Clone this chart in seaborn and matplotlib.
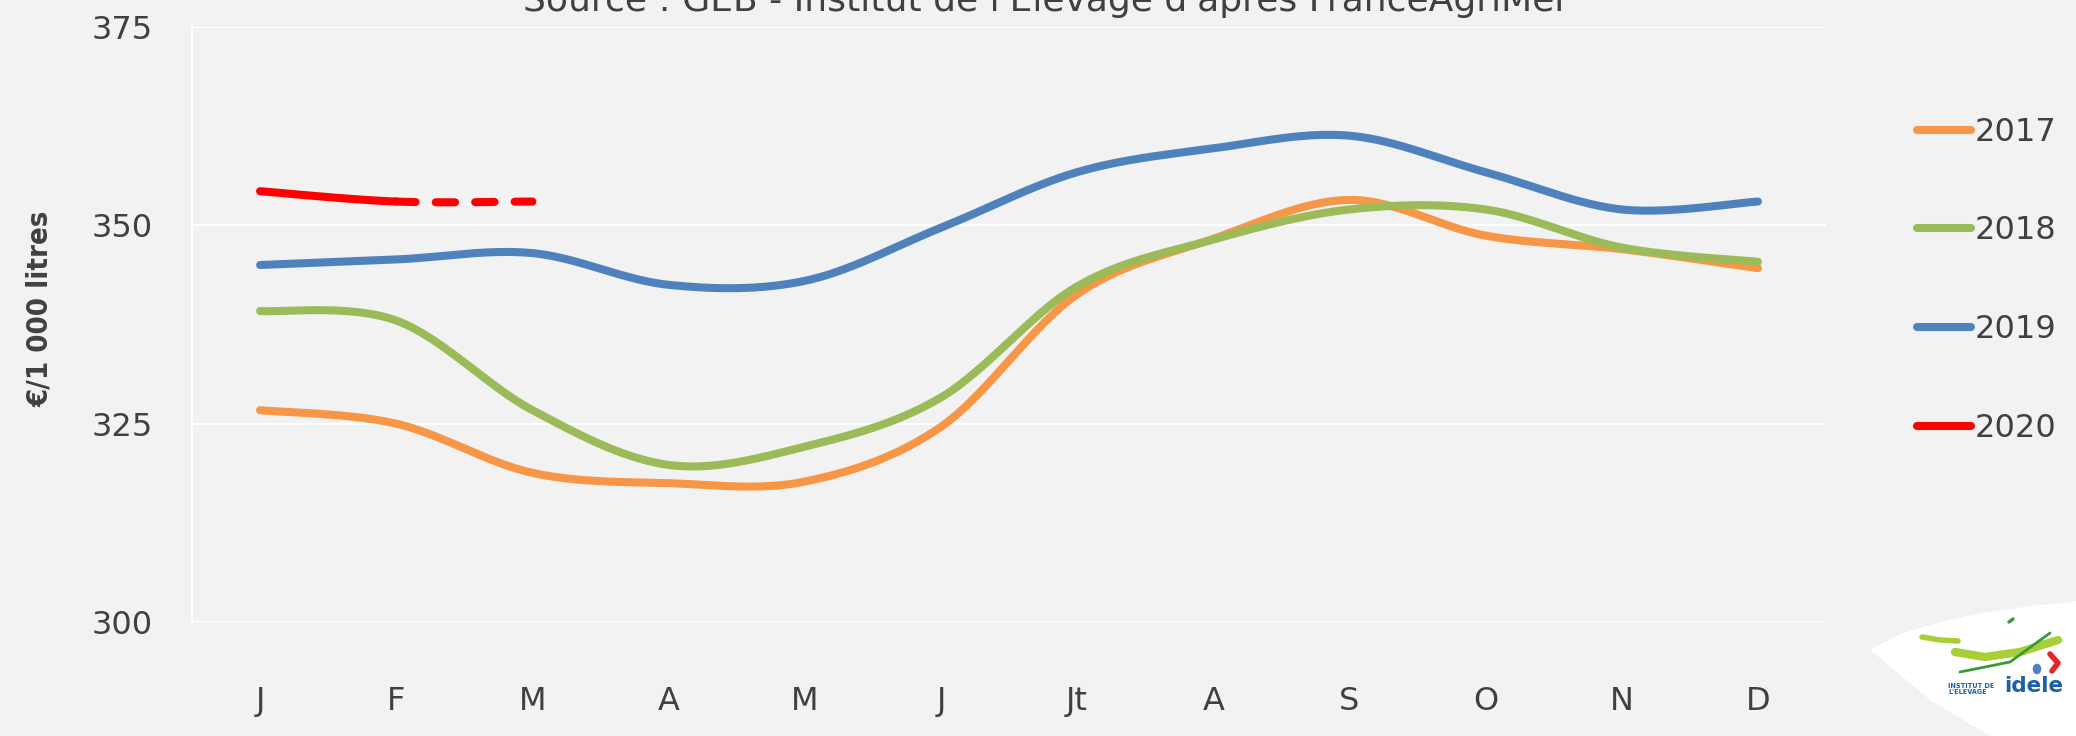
import numpy as np
import pandas as pd
import seaborn as sns
import matplotlib
matplotlib.use("Agg")
import matplotlib.pyplot as plt
from matplotlib.patches import Polygon, Ellipse
from matplotlib.lines import Line2D

# données
months = ["J", "F", "M", "A", "M", "J", "Jt", "A", "S", "O", "N", "D"]
years = ["2017", "2018", "2019", "2020"]
prix_2017 = [326.7, 325.0, 318.8, 317.5, 317.7, 324.6, 341.3, 348.3, 353.2, 348.7, 347.0, 344.6]
prix_2018 = [339.2, 338.0, 326.7, 319.8, 322.1, 328.3, 342.3, 348.2, 352.0, 352.0, 347.2, 345.4]
prix_2019 = [345.0, 345.7, 346.5, 342.5, 343.0, 349.7, 356.7, 359.7, 361.3, 356.7, 352.0, 353.0]
prix_2020 = [354.3, 353.0]
prix_2020_estim = [353.0, 353.0]  # F -> M, en pointilles
colors = {"2017": "#F79646", "2018": "#9BBB59", "2019": "#4F81BD", "2020": "#FF0000"}
yticks = [300, 325, 350, 375]
title = "Source : GEB - Institut de l'Elevage d'après FranceAgriMer"
ylabel = "€/1 000 litres"


def smooth(ys, x0=0, n=30):
    # lissage type Excel (bezier / catmull-rom)
    xs = np.arange(len(ys)) + x0
    pts = np.column_stack([xs, ys]).astype(float)
    p = np.vstack([pts[0], pts, pts[-1]])
    t = np.linspace(0, 1, n, endpoint=False)[:, None]
    out = []
    for i in range(1, len(p) - 2):
        p0, p1, p2, p3 = p[i - 1], p[i], p[i + 1], p[i + 2]
        c1 = p1 + (p2 - p0) / 6
        c2 = p2 - (p3 - p1) / 6
        out.append((1 - t) ** 3 * p1 + 3 * (1 - t) ** 2 * t * c1 + 3 * (1 - t) * t ** 2 * c2 + t ** 3 * p2)
    out.append(pts[-1][None])
    return np.vstack(out)


frames = []
for yr, vals in zip(years[:3], [prix_2017, prix_2018, prix_2019]):
    s = smooth(vals)
    frames.append(pd.DataFrame({"x": s[:, 0], "prix": s[:, 1], "annee": yr}))
df = pd.concat(frames, ignore_index=True)

s2020 = smooth(prix_2020 + prix_2020_estim[1:])
n_solid = (s2020[:, 0] <= 1).sum()
df20 = pd.DataFrame({"x": s2020[:n_solid, 0], "prix": s2020[:n_solid, 1], "annee": "2020"})
df20e = pd.DataFrame({"x": s2020[n_solid - 1:, 0], "prix": s2020[n_solid - 1:, 1], "annee": "2020"})

sns.set_theme(style="white")
plt.rcParams["font.family"] = ["DejaVu Sans"]
bg = "#F2F2F2"
fig = plt.figure(figsize=(20.76, 7.36), dpi=100, facecolor=bg)
ax = fig.add_axes([192 / 2076, 1 - 622 / 736, (1826 - 192) / 2076, (622 - 27) / 736])
ax.set_facecolor(bg)

lw = 5.8
sns.lineplot(data=df, x="x", y="prix", hue="annee", palette=colors, sort=False,
             estimator=None, linewidth=lw, legend=False, ax=ax,
             solid_capstyle="round")
sns.lineplot(data=df20, x="x", y="prix", color=colors["2020"], sort=False,
             estimator=None, linewidth=lw, ax=ax, solid_capstyle="round")
sns.lineplot(data=df20e, x="x", y="prix", color=colors["2020"], sort=False,
             estimator=None, linewidth=lw, ax=ax, dashes=False)
ax.lines[-1].set_dashes((2.4, 2.5))
ax.lines[-1].set_dash_capstyle("round")

ax.set_xlim(-0.5, 11.5)
ax.set_ylim(300, 375)
ax.set_xticks(range(len(months)))
ax.set_xticklabels(months)
ax.set_yticks(yticks)
ax.grid(axis="y", color="white", linewidth=1.5)
for sp in ["top", "right", "bottom"]:
    ax.spines[sp].set_visible(False)
ax.spines["left"].set_color("white")
ax.spines["left"].set_linewidth(1.5)
ax.tick_params(axis="both", length=0, labelsize=23, labelcolor="#404040")
ax.tick_params(axis="y", pad=28)
ax.tick_params(axis="x", pad=46)
ax.set_xlabel("")
ax.set_ylabel("")

handles = [Line2D([], [], color=colors[y], linewidth=lw) for y in years]
leg = fig.legend(handles, years, loc="upper left", bbox_to_anchor=(1888 / 2076, 1 - 88 / 736),
                 frameon=False, fontsize=23, handlelength=1.7, handletextpad=0.1,
                 labelspacing=2.12, labelcolor="#404040")

fig.text(40 / 2076, 1 - 309 / 736, ylabel, rotation=90, ha="center", va="center",
         fontsize=21, fontweight="bold", fontstretch="condensed", color="#404040",
         family=["DejaVu Sans"])
fig.text(1046 / 2076, 1 - 11 / 736, title, ha="center", va="baseline", fontsize=26,
         color="#404040", family=["DejaVu Sans"])


# logo idele (approximatif)
def fpt(x, y):
    return x / 2076, 1 - y / 736


logo = [(1870, 650), (1900, 634), (1940, 622), (1983, 613), (2030, 606), (2063, 603),
        (2076, 601), (2076, 736), (1990, 736), (1930, 700), (1885, 662)]
fig.patches.append(Polygon([fpt(*p) for p in logo], closed=True, facecolor="white",
                           edgecolor="none", transform=fig.transFigure, figure=fig))
fig.add_artist(Line2D(*zip(fpt(1922, 637), fpt(1940, 640), fpt(1958, 641)),
                      color="#A8CF38", linewidth=4, solid_capstyle="round"))
fig.add_artist(Line2D(*zip(fpt(1955, 652), fpt(1985, 657), fpt(2020, 652), fpt(2058, 640)),
                      color="#A8CF38", linewidth=6, solid_capstyle="round"))
fig.add_artist(Line2D(*zip(fpt(1960, 672), fpt(2010, 662), fpt(2050, 633)),
                      color="#3A9A3A", linewidth=2))
fig.add_artist(Line2D(*zip(fpt(2009, 622), fpt(2013, 619)),
                      color="#3A9A3A", linewidth=2.5))
fig.add_artist(Line2D(*zip(fpt(2050, 654), fpt(2058, 663), fpt(2052, 671)),
                      color="#E3262B", linewidth=4))
fig.patches.append(Ellipse(fpt(2037, 669), 10 / 2076, 12 / 736, facecolor="#4F81BD",
                           transform=fig.transFigure, figure=fig))
fig.text(*fpt(1948, 689), "INSTITUT DE\nL'ELEVAGE", fontsize=5.2, fontweight="bold",
         fontstretch="condensed", color="#1F5FAA", ha="left", va="center", linespacing=1.0)
fig.text(*fpt(2004, 686), "idele", fontsize=15.5, fontweight="bold", color="#1F5FAA",
         ha="left", va="center")

fig.savefig("out.png", dpi=100, facecolor=bg)
